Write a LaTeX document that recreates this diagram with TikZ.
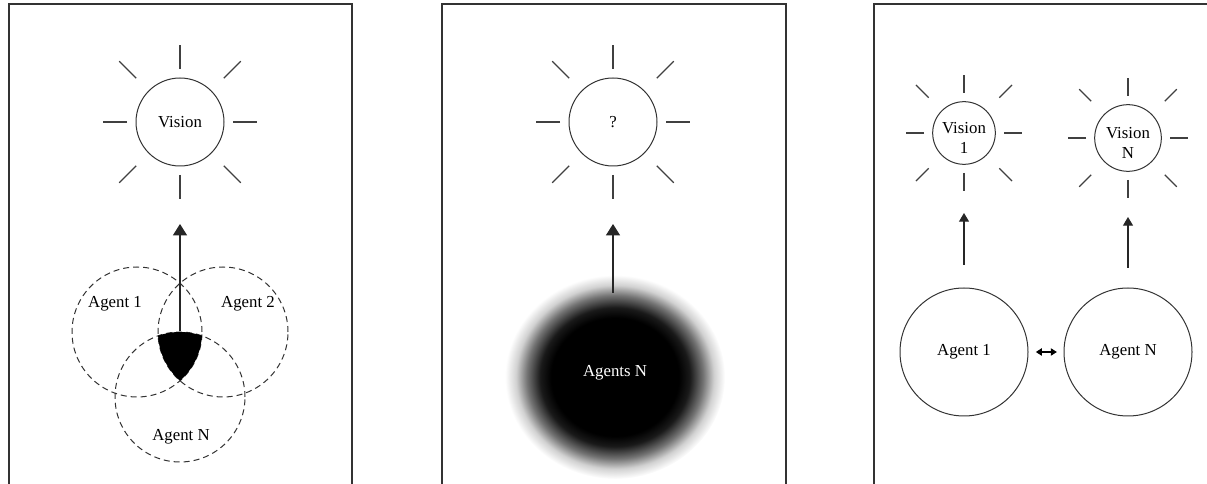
\documentclass[tikz,border=0pt]{standalone}
\usepackage{fontspec}
\setmainfont{Liberation Serif}
\usetikzlibrary{arrows.meta}
\pgfdeclareradialshading{blurdisk}{\pgfpoint{0bp}{0bp}}{color(0bp)=(black); color(14.5bp)=(black); color(17bp)=(black!90); color(20bp)=(black!55); color(22.5bp)=(black!18); color(25bp)=(white); color(50bp)=(white)}
\newcommand\drawsunrays[5]{%
  \foreach \a in {0,90,180,270}{\draw[ray] ([shift={(\a:#2)}]#1.center) -- ([shift={(\a:#3)}]#1.center);}%
  \foreach \a in {45,135,225,315}{\draw[ray] ([shift={(\a:#4)}]#1.center) -- ([shift={(\a:#5)}]#1.center);}%
}
\begin{document}
\begin{tikzpicture}[x=0.75pt,y=-0.75pt,
  font=\fontsize{12.6}{14.5}\selectfont,
  frame/.style={draw=black!80, line width=0.8pt},
  sunc/.style={circle, draw=black!80, line width=0.75pt, inner sep=0pt, align=center},
  ray/.style={draw=black!75, line width=0.85pt},
  dagent/.style={circle, draw=black!80, dash pattern=on 4.5pt off 3pt, line width=0.75pt, minimum size=97.5pt, inner sep=0pt},
  agent/.style={circle, draw=black!80, line width=0.75pt, minimum size=96pt, inner sep=0pt},
  bigarrow/.style={draw=black!85, line width=0.8pt, -{Triangle[width=10.5pt,length=8.5pt]}},
  smallarrow/.style={draw=black!85, line width=0.8pt, -{Triangle[width=7.5pt,length=6.5pt]}},
  duoarrow/.style={draw=black, line width=0.8pt, {Triangle[width=5.5pt,length=4.5pt]}-{Triangle[width=5.5pt,length=4.5pt]}},
  lbl/.style={inner sep=0pt}
]
\useasboundingbox (0,0) rectangle (1207,484);

% panel frames
\draw[frame] (9,484) -- (9,4) -- (352,4) -- (352,484);
\draw[frame] (442,484) -- (442,4) -- (786,4) -- (786,484);
\draw[frame] (874,484) -- (874,4) -- (1207,4);

% ---------- panel 1 ----------
\node[sunc, minimum size=66pt] (v) at (180,122) {Vision};
\drawsunrays{v}{53}{77}{62}{86}
\node[dagent] (ag1) at (137,332) {};
\node[dagent] (ag2) at (223,332) {};
\node[dagent] (agN) at (180,397) {};
\begin{scope}
  \clip (ag1.center) circle (65);
  \clip (ag2.center) circle (65);
  \fill[black] (agN.center) circle (65);
\end{scope}
\node[lbl] (t1) at (115,304) {Agent 1};
\node[lbl] (t2) at (248,304) {Agent 2};
\node[lbl] (tN) at (181,437) {Agent N};
\coordinate (p1) at (180,224);
\draw[bigarrow] (agN.north) -- (p1);

% ---------- panel 2 ----------
\node[sunc, minimum size=66pt] (q) at (613,122) {?};
\drawsunrays{q}{53}{77}{62}{86}
\shade[shading=blurdisk] (615,377) ellipse [x radius=110, y radius=102];
\node[lbl, text=white] (as) at (615,373) {Agents N};
\coordinate (p2s) at (613,293);
\coordinate (p2) at (613,224);
\draw[bigarrow] (p2s) -- (p2);

% ---------- panel 3 ----------
\node[sunc, minimum size=47pt] (v1) at (964,133) {};
\node[lbl, align=center] (v1t) at (964,138) {Vision\\1};
\drawsunrays{v1}{40}{58}{50}{68}
\node[sunc, minimum size=50pt] (vN) at (1128,138) {};
\node[lbl, align=center] (vNt) at (1128,143) {Vision\\N};
\drawsunrays{vN}{42}{60}{52}{69}

\node[agent] (b1) at (964,352) {Agent 1};
\node[agent] (bN) at (1128,352) {Agent N};
\coordinate (p31) at (964,213);
\coordinate (p3N) at (1128,217);
\draw[smallarrow] ([yshift=-39pt]p31) -- (p31);
\draw[smallarrow] ([yshift=-38pt]p3N) -- (p3N);
\draw[duoarrow, shorten <=5.5pt, shorten >=5pt] (b1.east) -- (bN.west);
\end{tikzpicture}
\end{document}
